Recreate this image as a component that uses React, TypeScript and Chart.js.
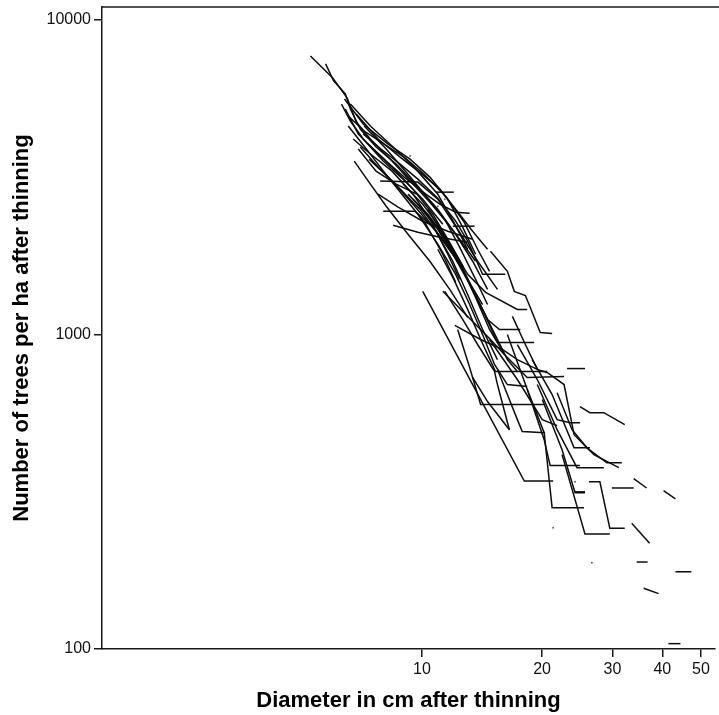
import React, { useEffect, useRef } from "react";
import { Chart, registerables } from "chart.js";

Chart.register(...registerables);

// Diameter (cm) after thinning, per stand trajectory
const standDiameters: number[][] = [
  [5.26, 5.98, 6.5, 6.85, 7.43, 8.33, 9.5, 10.47, 11.48, 12.43, 13.63],
  [5.74, 6.01, 6.43, 6.62, 7.01, 7.68, 8.62, 9.77, 10.96, 12.15, 13.4, 14.6],
  [6.29, 6.62, 7.13, 8.0, 8.97, 10.05, 11.28],
  [6.43, 6.93, 7.55, 8.52, 9.5, 10.65, 11.61, 12.72],
  [6.58, 7.17, 8.04, 9.03, 10.11, 11.34, 12.72, 13.79, 14.77],
  [6.73, 7.43, 8.42, 9.5, 10.47, 11.61, 12.43],
  [6.77, 7.43, 8.14, 9.23, 10.47, 11.74, 13.02],
  [7.01, 7.77, 8.72, 9.88, 11.15, 12.29],
  [7.13, 7.9, 8.82, 9.77, 10.96, 12.15, 13.02, 14.19, 16.18],
  [7.34, 8.14, 9.03, 10.23, 11.09, 12.15, 13.17],
  [6.93, 7.68, 8.62, 9.71],
  [8.47, 9.77, 11.09, 13.02],
  [7.86, 9.77, 10.96, 12.29, 13.79, 15.46],
  [8.0, 9.61, 10.65, 11.95, 13.02, 14.19],
  [7.77, 8.72, 10.05, 11.61, 13.4],
  [8.97, 10.05, 10.96, 11.95, 13.02, 14.44, 17.34, 18.36],
  [9.23, 10.35, 11.41, 12.43, 13.4, 14.6, 15.64, 17.64],
  [9.5, 10.65, 11.61, 12.65, 13.63, 14.77, 16.09],
  [9.77, 10.96, 12.09, 13.17, 14.36, 15.46, 19.11],
  [10.35, 11.48, 12.65, 13.79, 15.03, 16.37, 17.34, 20.59],
  [6.4, 7.13, 8.23, 9.34, 10.47, 11.61, 12.65, 13.63],
  [6.62, 7.43, 8.47, 9.66, 10.96, 12.09, 13.02],
  [6.85, 7.77, 8.82, 10.0, 11.09, 12.43, 13.4, 14.6],
  [7.17, 8.14, 9.23, 10.35, 11.48, 12.43, 13.63, 14.6],
  [6.54, 7.26, 8.23, 9.12, 10.23, 11.28, 12.15],
  [7.38, 8.33, 9.5, 10.84, 11.95, 13.02, 14.19, 15.46],
  [9.77, 10.96, 12.15, 13.17, 14.19, 15.2, 16.37, 18.36],
  [10.96, 12.02, 13.02, 14.11, 15.28, 17.34],
  [14.85, 16.37, 17.04, 18.16, 18.68, 19.79, 21.19],
  [11.28, 13.02, 14.85, 16.09, 18.36, 22.7],
  [12.09, 14.03, 15.91, 17.34, 19.45],
  [10.05, 13.4, 18.05, 21.31],
  [11.41, 12.65, 13.79, 15.2, 15.46, 16.56],
  [12.29, 13.17, 14.03, 20.35],
  [13.4, 14.6, 16.56],
  [15.46, 16.37, 17.34, 17.84, 20.35],
  [16.85, 18.16, 19.45, 20.59, 22.7, 24.05, 26.96, 31.13],
  [18.36, 20.24, 21.19, 25.46],
  [22.44, 25.61, 29.55],
  [16.37, 18.36, 20.24, 20.95, 24.88],
  [24.88, 26.35, 28.55, 32.21],
  [26.2, 27.91, 29.55, 32.21],
  [14.77, 17.34, 20.02, 21.81],
  [21.81, 23.77, 25.9, 29.05, 31.67],
  [17.34, 19.45, 21.81, 23.5, 24.88],
  [18.89, 21.19, 24.05, 26.35],
  [19.45, 21.81, 24.46, 28.55],
  [20.02, 22.44, 24.19, 25.61],
  [10.84, 12.02],
  [11.95, 13.55],
  [23.1, 25.61],
  [29.9, 33.92],
  [33.92, 36.54],
  [40.29, 43.15],
  [33.53, 37.17],
  [34.5, 36.75],
  [43.15, 47.3],
  [35.92, 39.15],
  [41.45, 44.41],
  [24.19, 25.61],
];

// Number of trees per ha after thinning, per stand trajectory
const standTrees: number[][] = [
  [7680, 6542, 5644, 4735, 4180, 3610, 3006, 2633, 2291, 2008, 1709],
  [7245, 6400, 5821, 5206, 4498, 3942, 3480, 2940, 2502, 2082, 1709, 1391],
  [5401, 4770, 4180, 3558, 3118, 2692, 2241],
  [5206, 4336, 3886, 3354, 2897, 2412, 2008, 1635],
  [4911, 4433, 4030, 3664, 3233, 2793, 2291, 1866, 1588],
  [4180, 3746, 3305, 2793, 2325, 1799, 1497],
  [3558, 3006, 2557, 2082, 1709, 1391, 1133],
  [3942, 3404, 2940, 2502, 2037, 1709],
  [4336, 3886, 3480, 3118, 2712, 2291, 1979, 1553, 1553],
  [4030, 3558, 3163, 2793, 2595, 2447, 2430],
  [3886, 3305, 3006, 2793],
  [2225, 2113, 2037, 1964],
  [3073, 3050, 2692, 2160, 1709, 1391],
  [2466, 2466, 2193, 1799, 1497, 1245],
  [2793, 2539, 2291, 2129, 2008],
  [3006, 2595, 2241, 1866, 1553, 1361, 1201, 1201],
  [2793, 2412, 2037, 1709, 1391, 1116, 1037, 1037],
  [2692, 2291, 1936, 1611, 1311, 1037, 864],
  [2595, 2160, 1760, 1443, 1158, 943, 943],
  [2502, 2008, 1611, 1292, 1037, 832, 763, 763],
  [5603, 4666, 4030, 3610, 3163, 2692, 2193, 1799],
  [5401, 4598, 3942, 3354, 2793, 2241, 1866],
  [5019, 4180, 3664, 3233, 2897, 2412, 2129, 1866],
  [4598, 3886, 3233, 2712, 2291, 1894, 1497, 1245],
  [4598, 3886, 3163, 2692, 2241, 1799, 1464],
  [3610, 3118, 2595, 2129, 1709, 1340, 1037, 832],
  [2412, 1936, 1553, 1245, 1000, 803, 693, 683],
  [1866, 1497, 1201, 950, 763, 763],
  [1839, 1588, 1371, 1330, 1218, 1014, 1007],
  [1371, 1141, 964, 864, 730, 735],
  [1068, 964, 896, 832, 774],
  [1371, 693, 342, 342],
  [1371, 1116, 929, 763, 693, 498],
  [1037, 785, 599, 599],
  [730, 612, 498],
  [774, 644, 536, 491, 487],
  [1141, 929, 774, 757, 693, 480, 415, 377],
  [668, 487, 281, 281],
  [415, 232, 232],
  [1000, 668, 463, 383, 383],
  [590, 564, 564, 517],
  [340, 340, 242, 242],
  [964, 719, 536, 513],
  [653, 498, 436, 391, 391],
  [929, 719, 536, 524, 524],
  [832, 644, 436, 436],
  [693, 498, 377, 377],
  [621, 430, 314, 314],
  [2834, 2834],
  [2209, 2209],
  [779, 779],
  [325, 325],
  [348, 325],
  [319, 300],
  [251, 217],
  [189, 189],
  [176, 176],
  [156, 150],
  [104, 104],
  [316, 316],
];

// Stands with a single observation
const singleDiameters: number[] = [9.34, 11.41, 10.96, 21.31, 26.65, 24.19];
const singleTrees: number[] = [3690, 2692, 2557, 243, 188, 340];

const xTickValues: number[] = [10, 20, 30, 40, 50];
const yTickValues: number[] = [100, 1000, 10000];

const FONT = "'Liberation Sans', Arial, Helvetica, sans-serif";
const INK = "#1a1a1a";

const frameTop = {
  id: "frameTop",
  afterDraw(chart: any) {
    const { ctx, chartArea } = chart;
    ctx.save();
    ctx.strokeStyle = INK;
    ctx.lineWidth = 1.5;
    ctx.beginPath();
    ctx.moveTo(chartArea.left, chartArea.top);
    ctx.lineTo(chart.width, chartArea.top);
    ctx.stroke();
    ctx.restore();
  },
};

export default function App() {
  const canvasRef = useRef<HTMLCanvasElement | null>(null);

  useEffect(() => {
    if (!canvasRef.current) return;
    const lineSets = standDiameters.map((ds, i) => ({
      data: ds.map((d, j) => ({ x: d, y: standTrees[i][j] })),
      showLine: true,
      borderColor: "#0d0d0d",
      borderWidth: 1.5,
      pointRadius: 0,
      tension: 0,
      fill: false,
    }));
    const dotSet = {
      data: singleDiameters.map((d, j) => ({ x: d, y: singleTrees[j] })),
      showLine: false,
      pointRadius: 1,
      pointBorderWidth: 0,
      backgroundColor: "#666",
      borderColor: "#666",
    };
    const chart = new Chart(canvasRef.current, {
      type: "scatter",
      data: { datasets: [...lineSets, dotSet] as any },
      options: {
        animation: false,
        responsive: false,
        devicePixelRatio: 1,
        layout: { padding: { top: 7, right: 0, left: 0, bottom: 0 } },
        plugins: { legend: { display: false }, tooltip: { enabled: false } },
        scales: {
          x: {
            type: "logarithmic",
            position: "bottom",
            min: 1.581,
            max: 54.2,
            afterBuildTicks: (s: any) => {
              s.ticks = xTickValues.map((v) => ({ value: v }));
            },
            afterFit: (s: any) => {
              s.height = 66;
              s.paddingLeft = 0;
              s.paddingRight = 0;
            },
            ticks: {
              callback: (v: any) => String(v),
              font: { family: FONT, size: 16 },
              color: "#111",
              padding: 3,
              maxRotation: 0,
              autoSkip: false,
            },
            grid: {
              drawOnChartArea: false,
              drawTicks: true,
              tickLength: 8,
              color: INK,
              lineWidth: 1.5,
            },
            border: { display: true, color: INK, width: 1.5 },
            title: {
              display: true,
              text: "Diameter in cm after thinning",
              font: { family: FONT, size: 22, weight: "bold" },
              color: "#000",
              padding: { top: 0, bottom: 1 },
            },
          },
          y: {
            type: "logarithmic",
            position: "left",
            min: 100,
            max: 10990,
            afterBuildTicks: (s: any) => {
              s.ticks = yTickValues.map((v) => ({ value: v }));
            },
            afterFit: (s: any) => {
              s.width = 102;
              s.paddingTop = 0;
              s.paddingBottom = 0;
            },
            ticks: {
              callback: (v: any) => String(v),
              font: { family: FONT, size: 16 },
              color: "#111",
              padding: 3,
              autoSkip: false,
            },
            grid: {
              drawOnChartArea: false,
              drawTicks: true,
              tickLength: 8,
              color: INK,
              lineWidth: 1.5,
            },
            border: { display: true, color: INK, width: 1.5 },
            title: {
              display: true,
              text: "Number of trees per ha after thinning",
              font: { family: FONT, size: 22, weight: "bold" },
              color: "#000",
              padding: { top: 9, bottom: 0 },
            },
          },
        },
      },
      plugins: [frameTop],
    } as any);
    return () => chart.destroy();
  }, []);

  return (
    <div
      style={{
        position: "fixed",
        left: 0,
        top: 0,
        width: 719,
        height: 715,
        background: "#fff",
      }}
    >
      <canvas ref={canvasRef} width={719} height={715} style={{ display: "block" }} />
    </div>
  );
}
